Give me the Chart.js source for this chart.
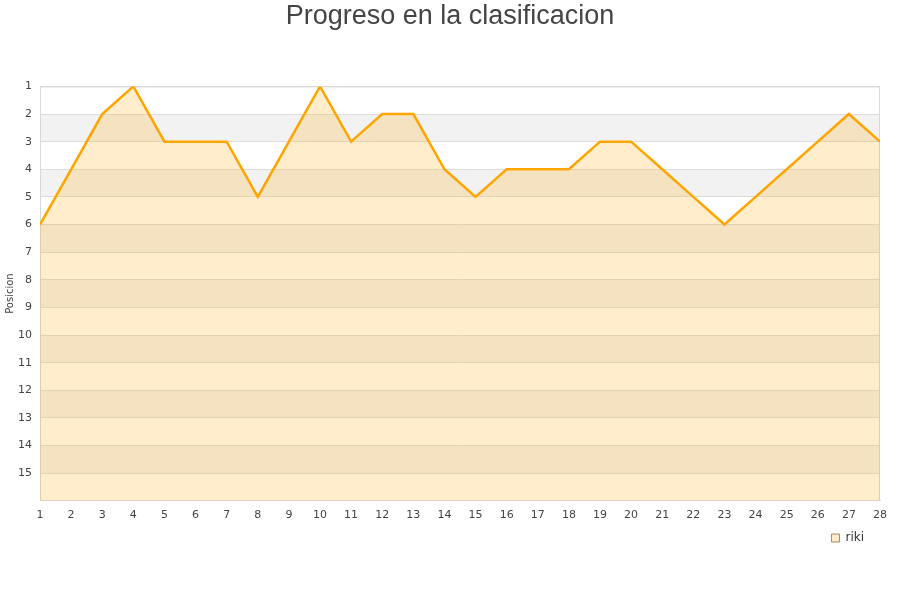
<!DOCTYPE html>
<html><head><meta charset="utf-8">
<script src="https://cdn.jsdelivr.net/npm/chart.js@4"></script>
<style>html,body{margin:0;padding:0;background:#fff}#wrap{width:900px;height:600px}</style>
</head><body><div id="wrap"><canvas id="c" width="900" height="600"></canvas></div>
<script>
const jornadas = [1,2,3,4,5,6,7,8,9,10,11,12,13,14,15,16,17,18,19,20,21,22,23,24,25,26,27,28];
const posiciones = [6,4,2,1,3,3,3,5,3,1,3,2,2,4,5,4,4,4,3,3,4,5,6,5,4,3,2,3];
const seriesName = 'riki';
const titleText = 'Progreso en la clasificacion';
const yTitle = 'Posicion';
const yMin = 1, yMax = 16;

const bandPlugin = {
  id: 'bands',
  afterLayout(chart) {
    // nudge legend away from the right edge
    if (chart.legend) { chart.legend.right -= 34; }
  },
  beforeDraw(chart) {
    const {ctx, chartArea, scales} = chart;
    const y = scales.y;
    ctx.save();
    for (let v = yMin; v < yMax; v++) {
      const t = y.getPixelForValue(v), b = y.getPixelForValue(v + 1);
      ctx.fillStyle = (v % 2 === 0) ? '#f2f2f2' : '#ffffff';
      ctx.fillRect(chartArea.left, Math.min(t,b), chartArea.right - chartArea.left, Math.abs(b - t));
    }
    ctx.restore();
  },
  beforeDatasetsDraw(chart) {
    const {ctx, chartArea: a} = chart;
    ctx.save();
    ctx.strokeStyle = '#d8d8d8';
    ctx.lineWidth = 1;
    ctx.beginPath();
    ctx.moveTo(a.left, a.top + 0.5);
    ctx.lineTo(a.right - 0.5, a.top + 0.5);
    ctx.lineTo(a.right - 0.5, a.bottom);
    ctx.stroke();
    ctx.restore();
  }
};

new Chart(document.getElementById('c'), {
  type: 'line',
  data: {
    datasets: [{
      label: seriesName,
      data: jornadas.map((j, i) => ({x: j, y: posiciones[i]})),
      borderColor: '#ffa500',
      backgroundColor: 'rgba(255,165,0,0.2)',
      borderWidth: 2.5,
      pointRadius: 0,
      tension: 0,
      fill: {value: yMax}
    }]
  },
  options: {
    responsive: false,
    animation: false,
    layout: {padding: {left: 0, right: 0, top: 0, bottom: 46}},
    plugins: {
      title: {display: true, text: titleText, color: '#444', font: {family: 'Liberation Sans', size: 27, weight: 'normal'}, padding: {top: 0, bottom: 54}},
      legend: {
        position: 'bottom', align: 'end',
        labels: {
          boxWidth: 8, boxHeight: 8, padding: 2, color: '#333', font: {family: 'DejaVu Sans', size: 12},
          generateLabels(chart) {
            return [{text: seriesName, fillStyle: '#ffeccc', strokeStyle: '#a08a66', lineWidth: 1, datasetIndex: 0, fontColor: '#333'}];
          }
        }
      },
      tooltip: {enabled: false}
    },
    scales: {
      x: {
        type: 'linear', min: 1, max: 28,
        afterFit(s) { s.paddingRight = 20; },
        ticks: {stepSize: 1, color: '#444', font: {family: 'DejaVu Sans', size: 11}, padding: 8},
        grid: {display: false, drawTicks: false},
        border: {color: '#d8d8d8'}
      },
      y: {
        reverse: true, min: yMin, max: yMax,
        afterFit(s) { s.width = 40; },
        title: {display: true, text: yTitle, color: '#444', font: {family: 'DejaVu Sans', size: 10}, padding: {top: 4, bottom: 0}},
        ticks: {stepSize: 1, color: '#444', font: {family: 'DejaVu Sans', size: 11}, padding: 8,
          callback: v => v === yMax ? '' : v},
        grid: {color: '#dcdcdc', drawTicks: false},
        border: {color: '#d8d8d8'}
      }
    }
  },
  plugins: [bandPlugin]
});
</script></body></html>
